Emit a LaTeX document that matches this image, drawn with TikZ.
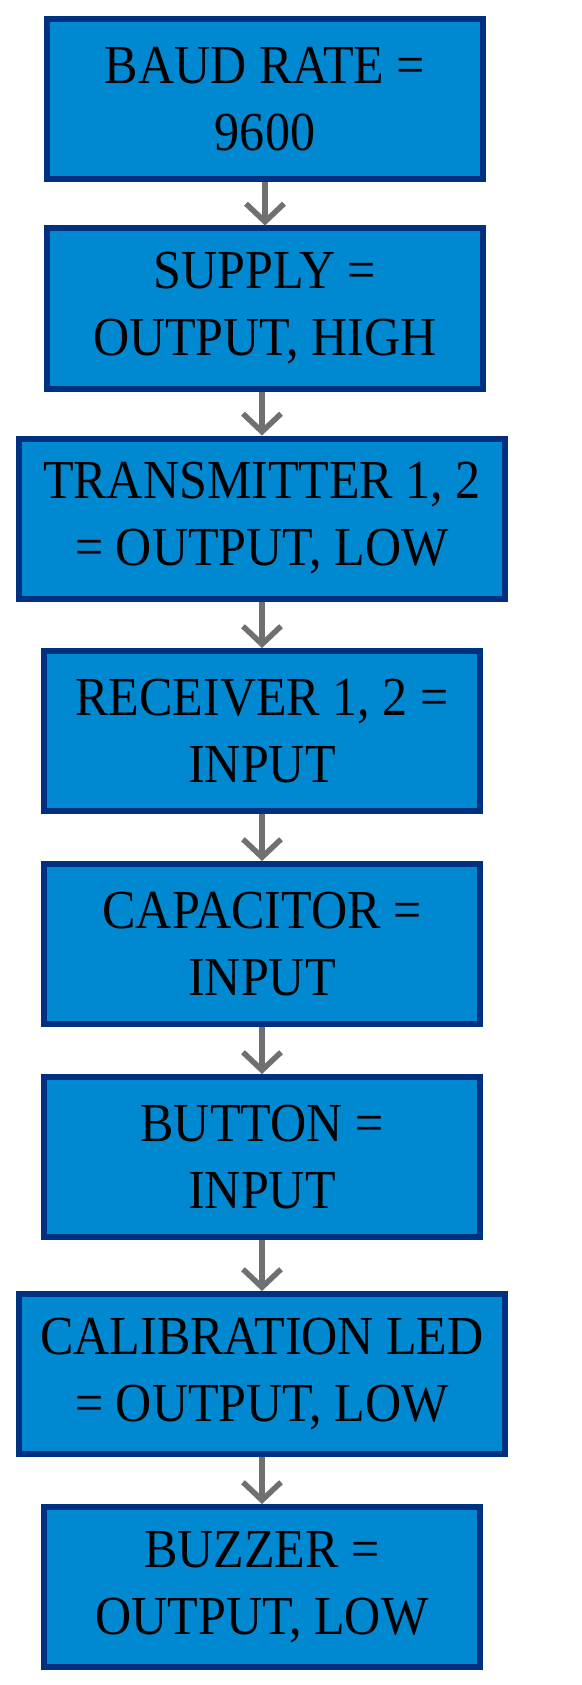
\documentclass[tikz,border=0pt]{standalone}
\usepackage{fontspec}
\setmainfont{Liberation Serif}[FakeStretch=0.91]
\usetikzlibrary{arrows.meta}
\definecolor{boxfill}{RGB}{0,136,208}
\definecolor{boxline}{RGB}{0,48,128}
\definecolor{arrgray}{RGB}{112,112,112}
\begin{document}
\begin{tikzpicture}[x=1pt,y=-1pt,
  stepbox/.style={draw=boxline, fill=boxfill, line width=6pt, minimum height=160pt,
    align=center, inner sep=0pt, font=\fontsize{55}{67}\selectfont, text=black},
  narrowbox/.style={stepbox, minimum width=436pt},
  widebox/.style={stepbox, minimum width=486pt},
  arr/.style={draw=arrgray, line width=5.5pt,
    -{Straight Barb[length=18pt, width=38pt, line width=5.5pt]}}]
\useasboundingbox (0,0) rectangle (581,1685);
\node[narrowbox] (b1) at (265,99) {BAUD RATE =\\9600};
\node[narrowbox] (b2) at (265,308.5) {SUPPLY =\\OUTPUT, HIGH};
\node[widebox] (b3) at (262,518.5) {TRANSMITTER 1, 2\\= OUTPUT, LOW};
\node[narrowbox] (b4) at (262,731) {RECEIVER 1, 2 =\\INPUT};
\node[narrowbox] (b5) at (262,944) {CAPACITOR =\\INPUT};
\node[narrowbox] (b6) at (262,1157) {BUTTON =\\INPUT};
\node[widebox] (b7) at (262,1374) {CALIBRATION LED\\= OUTPUT, LOW};
\node[narrowbox] (b8) at (262,1587) {BUZZER =\\OUTPUT, LOW};
\foreach \a/\b in {b1/b2,b2/b3,b3/b4,b4/b5,b5/b6,b6/b7,b7/b8}
  \draw[arr] (\a.south -| \b.north) -- (\b.north);
\end{tikzpicture}
\end{document}
